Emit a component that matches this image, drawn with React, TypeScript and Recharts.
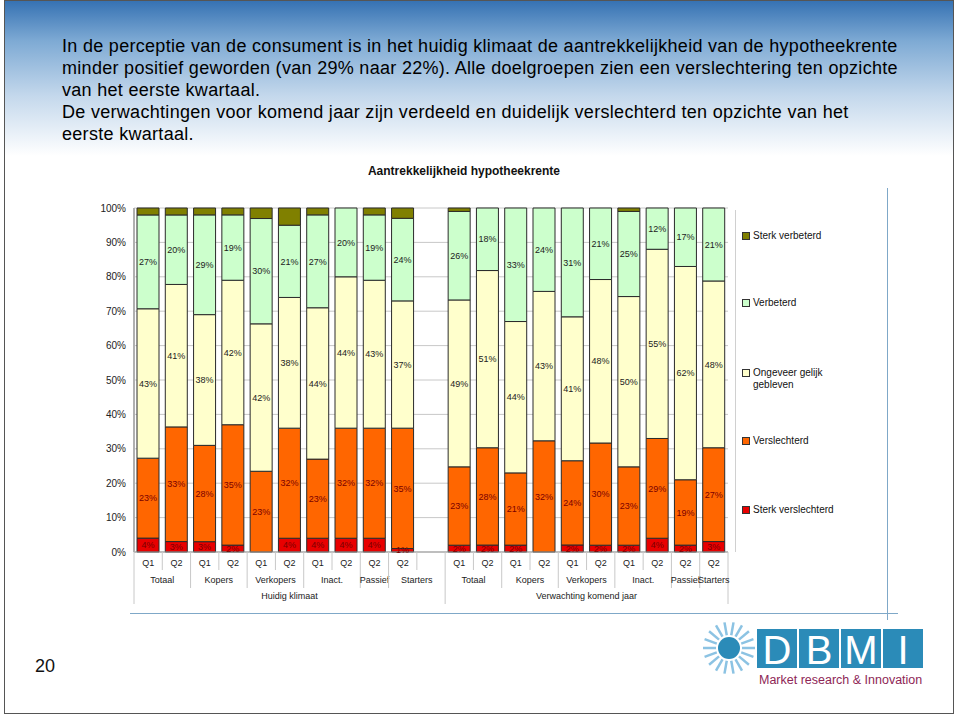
import { BarChart, Bar, XAxis, YAxis, CartesianGrid, LabelList } from "recharts";

// one slot per bar, slot 11 is the empty gap between the two blocks
const quarters = ["Q1", "Q2", "Q1", "Q2", "Q1", "Q2", "Q1", "Q2", "Q2", "Q2", "", "Q1", "Q2", "Q1", "Q2", "Q1", "Q2", "Q1", "Q2", "Q2", "Q2"];
const groupLabels = ["Totaal", "", "Kopers", "", "Verkopers", "", "Inact.", "", "Passief", "Starters", "", "Totaal", "", "Kopers", "", "Verkopers", "", "Inact.", "", "Passief", "Starters"];
const groupSpans = [2, 0, 2, 0, 2, 0, 2, 0, 1, 2, 0, 2, 0, 2, 0, 2, 0, 2, 0, 1, 1];
const periodLabels = ["Huidig klimaat", "", "", "", "", "", "", "", "", "", "", "Verwachting komend jaar", "", "", "", "", "", "", "", "", ""];
const periodSpans = [11, 0, 0, 0, 0, 0, 0, 0, 0, 0, 0, 10, 0, 0, 0, 0, 0, 0, 0, 0, 0];

const sterkVerslechterd = [4, 3, 3, 2, 0, 4, 4, 4, 4, 1, 0, 2, 2, 2, 0, 2, 2, 2, 4, 2, 3];
const verslechterd = [23, 33, 28, 35, 23, 32, 23, 32, 32, 35, 0, 23, 28, 21, 32, 24, 30, 23, 29, 19, 27];
const gelijk = [43, 41, 38, 42, 42, 38, 44, 44, 43, 37, 0, 49, 51, 44, 43, 41, 48, 50, 55, 62, 48];
const verbeterd = [27, 20, 29, 19, 30, 21, 27, 20, 19, 24, 0, 26, 18, 33, 24, 31, 21, 25, 12, 17, 21];
const sterkVerbeterd = [2, 2, 2, 2, 3, 5, 2, 0, 2, 3, 0, 1, 0, 0, 0, 0, 0, 1, 0, 0, 0];

const yTicks = [0, 0.1, 0.2, 0.3, 0.4, 0.5, 0.6, 0.7, 0.8, 0.9, 1];

const series = [
  { key: "sv", name: "Sterk verslechterd", color: "#e80000", label: "#7a0000" },
  { key: "v", name: "Verslechterd", color: "#ff6600", label: "#7a0000" },
  { key: "g", name: "Ongeveer gelijk gebleven", color: "#ffffcc", label: "#222" },
  { key: "vb", name: "Verbeterd", color: "#ccffcc", label: "#222" },
  { key: "svb", name: "Sterk verbeterd", color: "#808000", label: "" },
];

const data = quarters.map((q, i) => ({
  slot: String(i),
  q,
  sv: sterkVerslechterd[i],
  v: verslechterd[i],
  g: gelijk[i],
  vb: verbeterd[i],
  svb: sterkVerbeterd[i],
}));

// legend entries top to bottom
const legendRows = [
  { key: "svb", top: 230, text: ["Sterk verbeterd"] },
  { key: "vb", top: 297, text: ["Verbeterd"] },
  { key: "g", top: 367, text: ["Ongeveer gelijk", "gebleven"] },
  { key: "v", top: 435, text: ["Verslechterd"] },
  { key: "sv", top: 504, text: ["Sterk verslechterd"] },
];

const CategoryTick = (props: any) => {
  const { x, y, index, payload } = props;
  const half = payload && payload.offset ? payload.offset : 14.14;
  const len = periodLabels[index] ? 52 : groupSpans[index] > 0 ? 36 : 18;
  return (
    <g>
      <line x1={x - half} x2={x - half} y1={y} y2={y + len} stroke="#c8c8c8" />
      {index === quarters.length - 1 && (
        <line x1={x + half} x2={x + half} y1={y} y2={y + 52} stroke="#c8c8c8" />
      )}
      <text x={x} y={y + 14} textAnchor="middle" fontSize={9} fill="#222">
        {quarters[index]}
      </text>
      {groupLabels[index] && (
        <text x={x + (groupSpans[index] - 1) * half} y={y + 31} textAnchor="middle" fontSize={9} fill="#222">
          {groupLabels[index]}
        </text>
      )}
      {periodLabels[index] && (
        <text x={x + (periodSpans[index] - 1) * half} y={y + 47} textAnchor="middle" fontSize={9} fill="#222">
          {periodLabels[index]}
        </text>
      )}
    </g>
  );
};

const pct = (v: number) => `${Math.round(v * 100)}%`;

const Logo = () => {
  const rays = Array.from({ length: 18 }, (_, i) => (i * 360) / 18);
  return (
    <svg width={240} height={80} style={{ position: "absolute", left: 695, top: 618 }}>
      {rays.map((a) => {
        const r = (a * Math.PI) / 180;
        return (
          <line
            key={a}
            x1={34 + Math.cos(r) * 13}
            y1={30 + Math.sin(r) * 13}
            x2={34 + Math.cos(r) * 26}
            y2={30 + Math.sin(r) * 26}
            stroke="#8cc3e3"
            strokeWidth={2.5}
          />
        );
      })}
      <circle cx={34} cy={30} r={11} fill="#2b8bb8" />
      {["D", "B", "M", "I"].map((l, i) => (
        <g key={l}>
          <rect x={62 + i * 42} y={11} width={40} height={39} fill="#2b8bb8" />
          <text x={82 + i * 42} y={46} textAnchor="middle" fontSize={40} fill="#fff" fontFamily="Liberation Sans, Arial">
            {l}
          </text>
        </g>
      ))}
      <text x={64} y={66} fontSize={12.5} fill="#8e2656" fontFamily="Liberation Sans, Arial">
        Market research &amp; Innovation
      </text>
    </svg>
  );
};

const App = () => {
  return (
    <div
      style={{
        position: "absolute",
        left: 0,
        top: 0,
        width: 960,
        height: 716,
        background: "#fff",
        fontFamily: "Liberation Sans, Arial, sans-serif",
        overflow: "hidden",
      }}
    >
      <div
        style={{
          position: "absolute",
          left: 4,
          top: 0,
          width: 950,
          height: 714,
          boxSizing: "border-box",
          border: "1.5px solid #555",
          background: "linear-gradient(180deg, #3672b3 0px, #7eaad4 40px, #c4d8ec 95px, #ffffff 155px)",
        }}
      />
      <div
        style={{
          position: "absolute",
          left: 62,
          top: 35,
          fontSize: 18,
          letterSpacing: "0.3px",
          lineHeight: "22px",
          color: "#000",
          whiteSpace: "nowrap",
        }}
      >
        In de perceptie van de consument is in het huidig klimaat de aantrekkelijkheid van de hypotheekrente
        <br />
        minder positief geworden (van 29% naar 22%). Alle doelgroepen zien een verslechtering ten opzichte
        <br />
        van het eerste kwartaal.
        <br />
        De verwachtingen voor komend jaar zijn verdeeld en duidelijk verslechterd ten opzichte van het
        <br />
        eerste kwartaal.
      </div>
      <div
        style={{
          position: "absolute",
          left: 264,
          width: 400,
          top: 164,
          textAlign: "center",
          fontSize: 12,
          fontWeight: "bold",
          color: "#111",
        }}
      >
        Aantrekkelijkheid hypotheekrente
      </div>

      {/* frame lines of the slide */}
      <div style={{ position: "absolute", left: 130, top: 613, width: 768, height: 1, background: "#7fa8c8" }} />
      <div style={{ position: "absolute", left: 887, top: 188, width: 1, height: 432, background: "#7fa8c8" }} />
      <div style={{ position: "absolute", left: 735, top: 210, width: 1, height: 342, background: "#d0d0d0" }} />

      <div style={{ position: "absolute", left: 0, top: 0 }}>
        <BarChart
          width={960}
          height={716}
          data={data}
          stackOffset="expand"
          barSize={22}
          margin={{ top: 208, right: 232, bottom: 104, left: 94 }}
        >
          <CartesianGrid vertical={false} stroke="#c8c8c8" />
          <XAxis
            dataKey="slot"
            type="category"
            interval={0}
            height={60}
            tickLine={false}
            tickSize={0}
            tickMargin={0}
            axisLine={{ stroke: "#999" }}
            tick={(p: any) => <CategoryTick {...p} />}
          />
          <YAxis
            type="number"
            domain={[0, 1]}
            ticks={yTicks}
            width={40}
            tickFormatter={pct}
            tickLine={false}
            tickSize={0}
            tickMargin={8}
            axisLine={{ stroke: "#b0b0b0", strokeWidth: 2 }}
            tick={{ fontSize: 10, fill: "#222" }}
          />
          {series.map((s) => (
            <Bar
              key={s.key}
              dataKey={s.key}
              name={s.name}
              stackId="a"
              fill={s.color}
              stroke="#2a2a2a"
              strokeWidth={1}
              isAnimationActive={false}
            >
              {s.label && (
                <LabelList
                  dataKey={s.key}
                  position="center"
                  fontSize={9}
                  fill={s.label}
                  formatter={(v: any) => (v ? `${v}%` : "")}
                />
              )}
            </Bar>
          ))}
        </BarChart>
      </div>

      {legendRows.map((r) => {
        const s = series.find((x) => x.key === r.key)!;
        return (
          <div key={r.key} style={{ position: "absolute", left: 742, top: r.top, fontSize: 10, lineHeight: "12px", color: "#111" }}>
            <span
              style={{
                position: "absolute",
                left: 0,
                top: 2,
                width: 6,
                height: 6,
                background: s.color,
                border: "1px solid #333",
              }}
            />
            <div style={{ marginLeft: 11, whiteSpace: "nowrap" }}>
              {r.text.map((t) => (
                <div key={t}>{t}</div>
              ))}
            </div>
          </div>
        );
      })}

      <div style={{ position: "absolute", left: 35, top: 656, fontSize: 18, color: "#111" }}>20</div>
      <Logo />
    </div>
  );
};

export default App;
